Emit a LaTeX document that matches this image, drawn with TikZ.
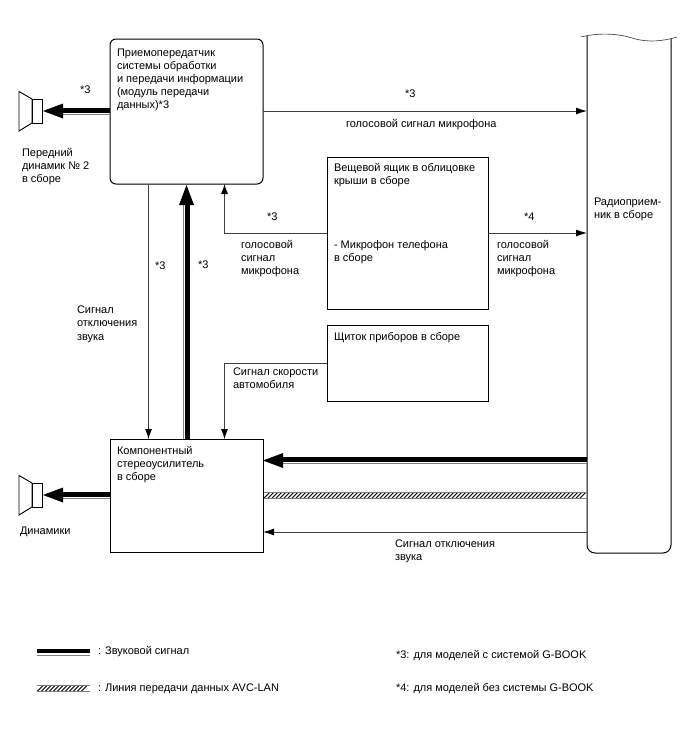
\documentclass[tikz,border=0pt]{standalone}
\usepackage{fontspec}
\setmainfont{Liberation Sans}
\usetikzlibrary{arrows.meta,calc}
\definecolor{linegray}{gray}{0.25}
\definecolor{softgray}{gray}{0.5}
% diagonal hatching of a horizontal band: left x, right x, centre y
\newcommand{\hatchband}[3]{%
  \pgfmathtruncatemacro{\hatchcount}{(#2-#1-6.4)/4}
  \foreach \k in {0,...,\hatchcount}
    \draw[line width=1.1pt,black!90,line cap=butt] ({#1+4*\k},#3+3.2) -- ++(6.4,-6.4);
  \draw[softgray,line width=.8pt] (#1,#3-3.2) -- (#2,#3-3.2) (#1,#3+3.2) -- (#2,#3+3.2);
}
\tikzset{
  x=1pt,y=-1pt,
  every node/.style={font=\fontsize{11}{13.2}\selectfont,inner sep=0pt,outer sep=0pt},
  lbl/.style={anchor=north west,align=left,yshift=-2.6pt},
  unitbox/.style={draw,line width=1pt,anchor=north west,inner sep=0pt},
  thinline/.style={draw=linegray,line width=.8pt},
  thinarrow/.style={thinline,-{Latex[length=11pt,width=7pt,black]}},
  thickcore/.style={line width=5pt,black},
  thickedge/.style={line width=1pt,softgray},
  bigtip/.style={fill=black,draw=none},
  speaker/.style={draw,line width=.9pt,fill=white,line join=miter},
}
\begin{document}
\begin{tikzpicture}
\useasboundingbox (0,0) rectangle (688,755);

% Units
\node[unitbox,rounded corners=6pt,minimum width=153pt,minimum height=145pt] (tcu) at (110,39) {};
\node[unitbox,minimum width=153pt,minimum height=113pt] (amp) at (110,439) {};
\node[unitbox,minimum width=161pt,minimum height=152pt] (roof) at (327,157) {};
\node[unitbox,minimum width=161pt,minimum height=76pt] (meter) at (327,325) {};

% Radio receiver, open at the top with a wavy break
\draw[line width=1pt,rounded corners=8pt] (587,36) -- (587,553) -- (671,553) -- (671,38);
\draw[line width=.7pt,black!70] (581,37) .. controls (596,33) and (617,33) .. (632,38)
  .. controls (648,43) and (664,41) .. (677,37);
\coordinate (radioN) at (587,111);
\coordinate (radio) at (587,300);

% Speakers
\coordinate (spkA) at (43,111);
\coordinate (spkB) at (43,495);
\foreach \c/\u in {111/spkA,495/spkB}{
  \draw[speaker] (32,\c-12) -- (19,\c-19.5) -- (19,\c+20) -- (32,\c+12) -- cycle;
  \draw[speaker] (32,\c-12) rectangle (42,\c+12);
}

% Thin signal lines
\draw[thinarrow] (tcu.east |- radioN) -- (radioN);
\draw[thinarrow] (roof.east |- 0,233) -- (radio |- 0,233);
\coordinate (micTurn) at (224.5,233);
\draw[thinline,-{Latex[length=10pt,width=7pt,black]}] (roof.west |- micTurn) -- (micTurn) -- (micTurn |- tcu.south);
\coordinate (muteDown) at (148.5,184);
\draw[thinline,-{Latex[length=10pt,width=7pt,black]}] (muteDown) -- (muteDown |- amp.north);
\coordinate (spdTurn) at (224.5,363);
\draw[thinline,-{Latex[length=10pt,width=7pt,black]}] (meter.west |- spdTurn) -- (spdTurn) -- (spdTurn |- amp.north);
\draw[thinarrow] (radio |- 0,532) -- (amp.east |- 0,532);

% Thick audio lines: heavy core with a fine companion line
\draw[thickcore] (tcu.west |- 0,110.5) -- (60,110.5);
\draw[thickedge] (tcu.west |- 0,114.7) -- (60,114.7);
\fill[bigtip] (spkA) -- ++(20,-7.5) -- ++(0,15) -- cycle;

\draw[thickcore] (amp.west |- 0,494.5) -- (60,494.5);
\draw[thickedge] (amp.west |- 0,498.5) -- (60,498.5);
\fill[bigtip] (spkB) -- ++(20,-7.5) -- ++(0,15) -- cycle;

\draw[thickcore] (187.5,439) -- (187.5,202);
\draw[thickedge] (183.5,439) -- (183.5,202);
\fill[bigtip] (186.5,185) -- ++(-7.5,20) -- ++(15,0) -- cycle;

\draw[thickcore] (radio |- 0,459) -- (281,459);
\draw[thickedge] (radio |- 0,463.7) -- (281,463.7);
\fill[bigtip] (amp.east |- 0,460.5) -- ++(20,-7.5) -- ++(0,15) -- cycle;

% AVC-LAN data line
\hatchband{263.5}{587}{495.5}

% Unit captions
\node[lbl] at (117,46) {Приемопередатчик\\системы обработки\\и передачи информации\\(модуль передачи\\данных)*3};
\node[lbl] at (334,160.5) {Вещевой ящик в облицовке\\крыши в сборе};
\node[lbl] at (334,237.5) {- Микрофон телефона\\в сборе};
\node[lbl] at (334,329.5) {Щиток приборов в сборе};
\node[lbl] at (117,443.5) {Компонентный\\стереоусилитель\\в сборе};
\node[lbl] at (594,195.5) {Радиоприем-\\ник в сборе};

% Speaker captions
\node[lbl] at (22,145.5) {Передний\\динамик № 2\\в сборе};
\node[lbl] at (20,524.5) {Динамики};

% Signal labels
\node[lbl] at (80,83.5) {*3};
\node[lbl] at (405,87.5) {*3};
\node[lbl] at (346,116.5) {голосовой сигнал микрофона};
\node[lbl] at (267,210.5) {*3};
\node[lbl] at (241,237.5) {голосовой\\сигнал\\микрофона};
\node[lbl] at (524,210.5) {*4};
\node[lbl] at (497,237.5) {голосовой\\сигнал\\микрофона};
\node[lbl] at (155,259.5) {*3};
\node[lbl] at (198,258.5) {*3};
\node[lbl] at (77,303.5) {Сигнал\\отключения\\звука};
\node[lbl] at (233,365.5) {Сигнал скорости\\автомобиля};
\node[lbl] at (395,537.5) {Сигнал отключения\\звука};

% Legend
\coordinate (keyAudioL) at (37,651);
\coordinate (keyAudioR) at (90,651);
\draw[thickcore,line width=4.5pt] (keyAudioL) -- (keyAudioR);
\draw[thickedge] ($(keyAudioL)+(0,4.5)$) -- ($(keyAudioR)+(0,4.5)$);
\hatchband{37}{90}{688.5}
\node[lbl] at (98,643.5) {: Звуковой сигнал};
\node[lbl] at (98,681.5) {: Линия передачи данных AVC-LAN};
\node[lbl] at (396,647.5) {*3: для моделей с системой G-BOOK};
\node[lbl] at (396,680.5) {*4: для моделей без системы G-BOOK};
\end{tikzpicture}
\end{document}
